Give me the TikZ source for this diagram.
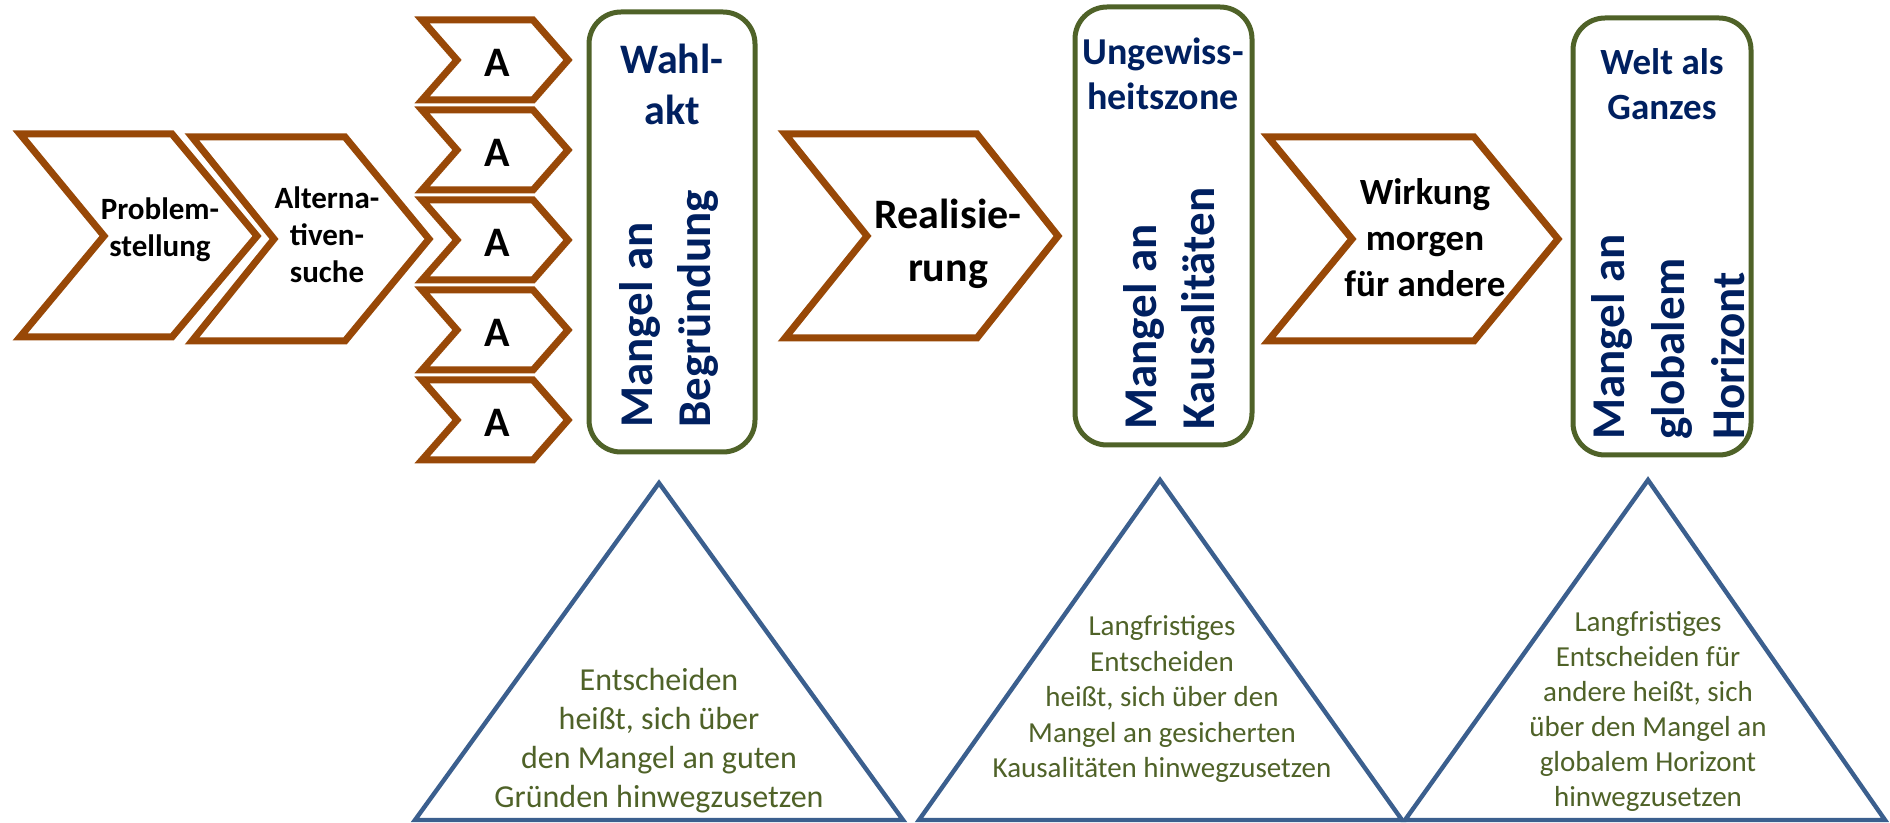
\documentclass[tikz,border=0pt]{standalone}
\usepackage{fontspec}
\setmainfont{Carlito}
\definecolor{chevbrown}{HTML}{984807}
\definecolor{boxgreen}{HTML}{4F6228}
\definecolor{darkblue}{HTML}{002060}
\definecolor{triblue}{HTML}{3B5F8E}
\definecolor{textgreen}{HTML}{4F6228}
\begin{document}
\begin{tikzpicture}[x=0.5pt,y=-0.5pt,
  chev/.style={draw=chevbrown, line width=3.5pt, line join=miter, fill=white},
  gbox/.style={draw=boxgreen, line width=2.5pt, rounded corners=16pt, fill=white},
  tri/.style={draw=triblue, line width=2.2pt, line join=miter},
  chevtext/.style={inner sep=0pt, align=center, text=black},
  boxtitle/.style={inner sep=0pt, align=center, text=darkblue},
  rottext/.style={inner sep=0pt, align=left, text=darkblue, rotate=90, anchor=west, font=\bfseries\fontsize{23.5pt}{29pt}\selectfont},
  tritext/.style={inner sep=0pt, align=center, text=textgreen}
]
\useasboundingbox (0,0) rectangle (1890,823);

% left chevrons
\draw[chev] (20,134) -- (172,134) -- (257,236) -- (172,337) -- (20,337) -- (104,236) -- cycle;
\draw[chev] (192,137) -- (345,137) -- (429,239) -- (345,341) -- (192,341) -- (274,239) -- cycle;
\node[chevtext, font=\bfseries\fontsize{15.5pt}{18.5pt}\selectfont] (problem) at (160,230) {Problem-\\stellung};
\node[chevtext, font=\bfseries\fontsize{15.5pt}{18.5pt}\selectfont] (alternativen) at (327,235) {Alterna-\\tiven-\\suche};

% A chevrons
\foreach \m [count=\i] in {60,150,240,330,420} {
  \draw[chev] (422,\m-40) -- (533,\m-40) -- (568,\m) -- (533,\m+40) -- (422,\m+40) -- (457,\m) -- cycle;
  \node[chevtext, font=\bfseries\fontsize{21pt}{25pt}\selectfont] (a\i) at (497,\m+3) {A};
}

% Realisierung chevron
\draw[chev] (785,134) -- (977,134) -- (1058,236) -- (977,338) -- (785,338) -- (867,236) -- cycle;
\node[chevtext, font=\bfseries\fontsize{21pt}{26.5pt}\selectfont] (real) at (948,244) {Realisie-\\rung};

% Wirkung chevron
\draw[chev] (1268,137) -- (1474,137) -- (1558,239) -- (1474,341) -- (1268,341) -- (1352,239) -- cycle;
\node[chevtext, font=\bfseries\fontsize{18.5pt}{23pt}\selectfont] (wirkung) at (1425,238) {Wirkung\\morgen\\für andere};

% green boxes
\draw[gbox] (589,12) rectangle (755,452);
\node[boxtitle, font=\bfseries\fontsize{21pt}{25.5pt}\selectfont] (wahl) at (672,84) {Wahl-\\akt};
\node[rottext] (mangel1) at (669,428) {Mangel an\\Begründung};

\draw[gbox] (1075,7) rectangle (1252,445);
\node[boxtitle, font=\bfseries\fontsize{19pt}{22.5pt}\selectfont] (unge) at (1163,74) {Ungewiss-\\heitszone};
\node[rottext] (mangel2) at (1169,430) {Mangel an\\Kausalitäten};

\draw[gbox] (1573,18) rectangle (1751,455);
\node[boxtitle, font=\bfseries\fontsize{18.5pt}{22.5pt}\selectfont] (welt) at (1662,84) {Welt als\\Ganzes};
\node[rottext, font=\bfseries\fontsize{23.5pt}{30pt}\selectfont] (mangel3) at (1668,440) {Mangel an\\globalem\\Horizont};

% triangles
\draw[tri] (659,483) -- (903,820) -- (415,820) -- cycle;
\draw[tri] (1160,480) -- (1402,820) -- (919,820) -- cycle;
\draw[tri] (1648,480) -- (1885,820) -- (1405,820) -- cycle;

\node[tritext, font=\fontsize{16pt}{19.5pt}\selectfont] (t1) at (659,741) {Entscheiden\\heißt, sich über\\den Mangel an guten\\Gründen hinwegzusetzen};
\node[tritext, font=\fontsize{14.5pt}{17.75pt}\selectfont] (t2) at (1162,699) {Langfristiges\\Entscheiden\\heißt, sich über den\\Mangel an gesicherten\\Kausalitäten hinwegzusetzen};
\node[tritext, font=\fontsize{14.5pt}{17.5pt}\selectfont] (t3) at (1648,711) {Langfristiges\\Entscheiden für\\andere heißt, sich\\über den Mangel an\\globalem Horizont\\hinwegzusetzen};
\end{tikzpicture}
\end{document}
